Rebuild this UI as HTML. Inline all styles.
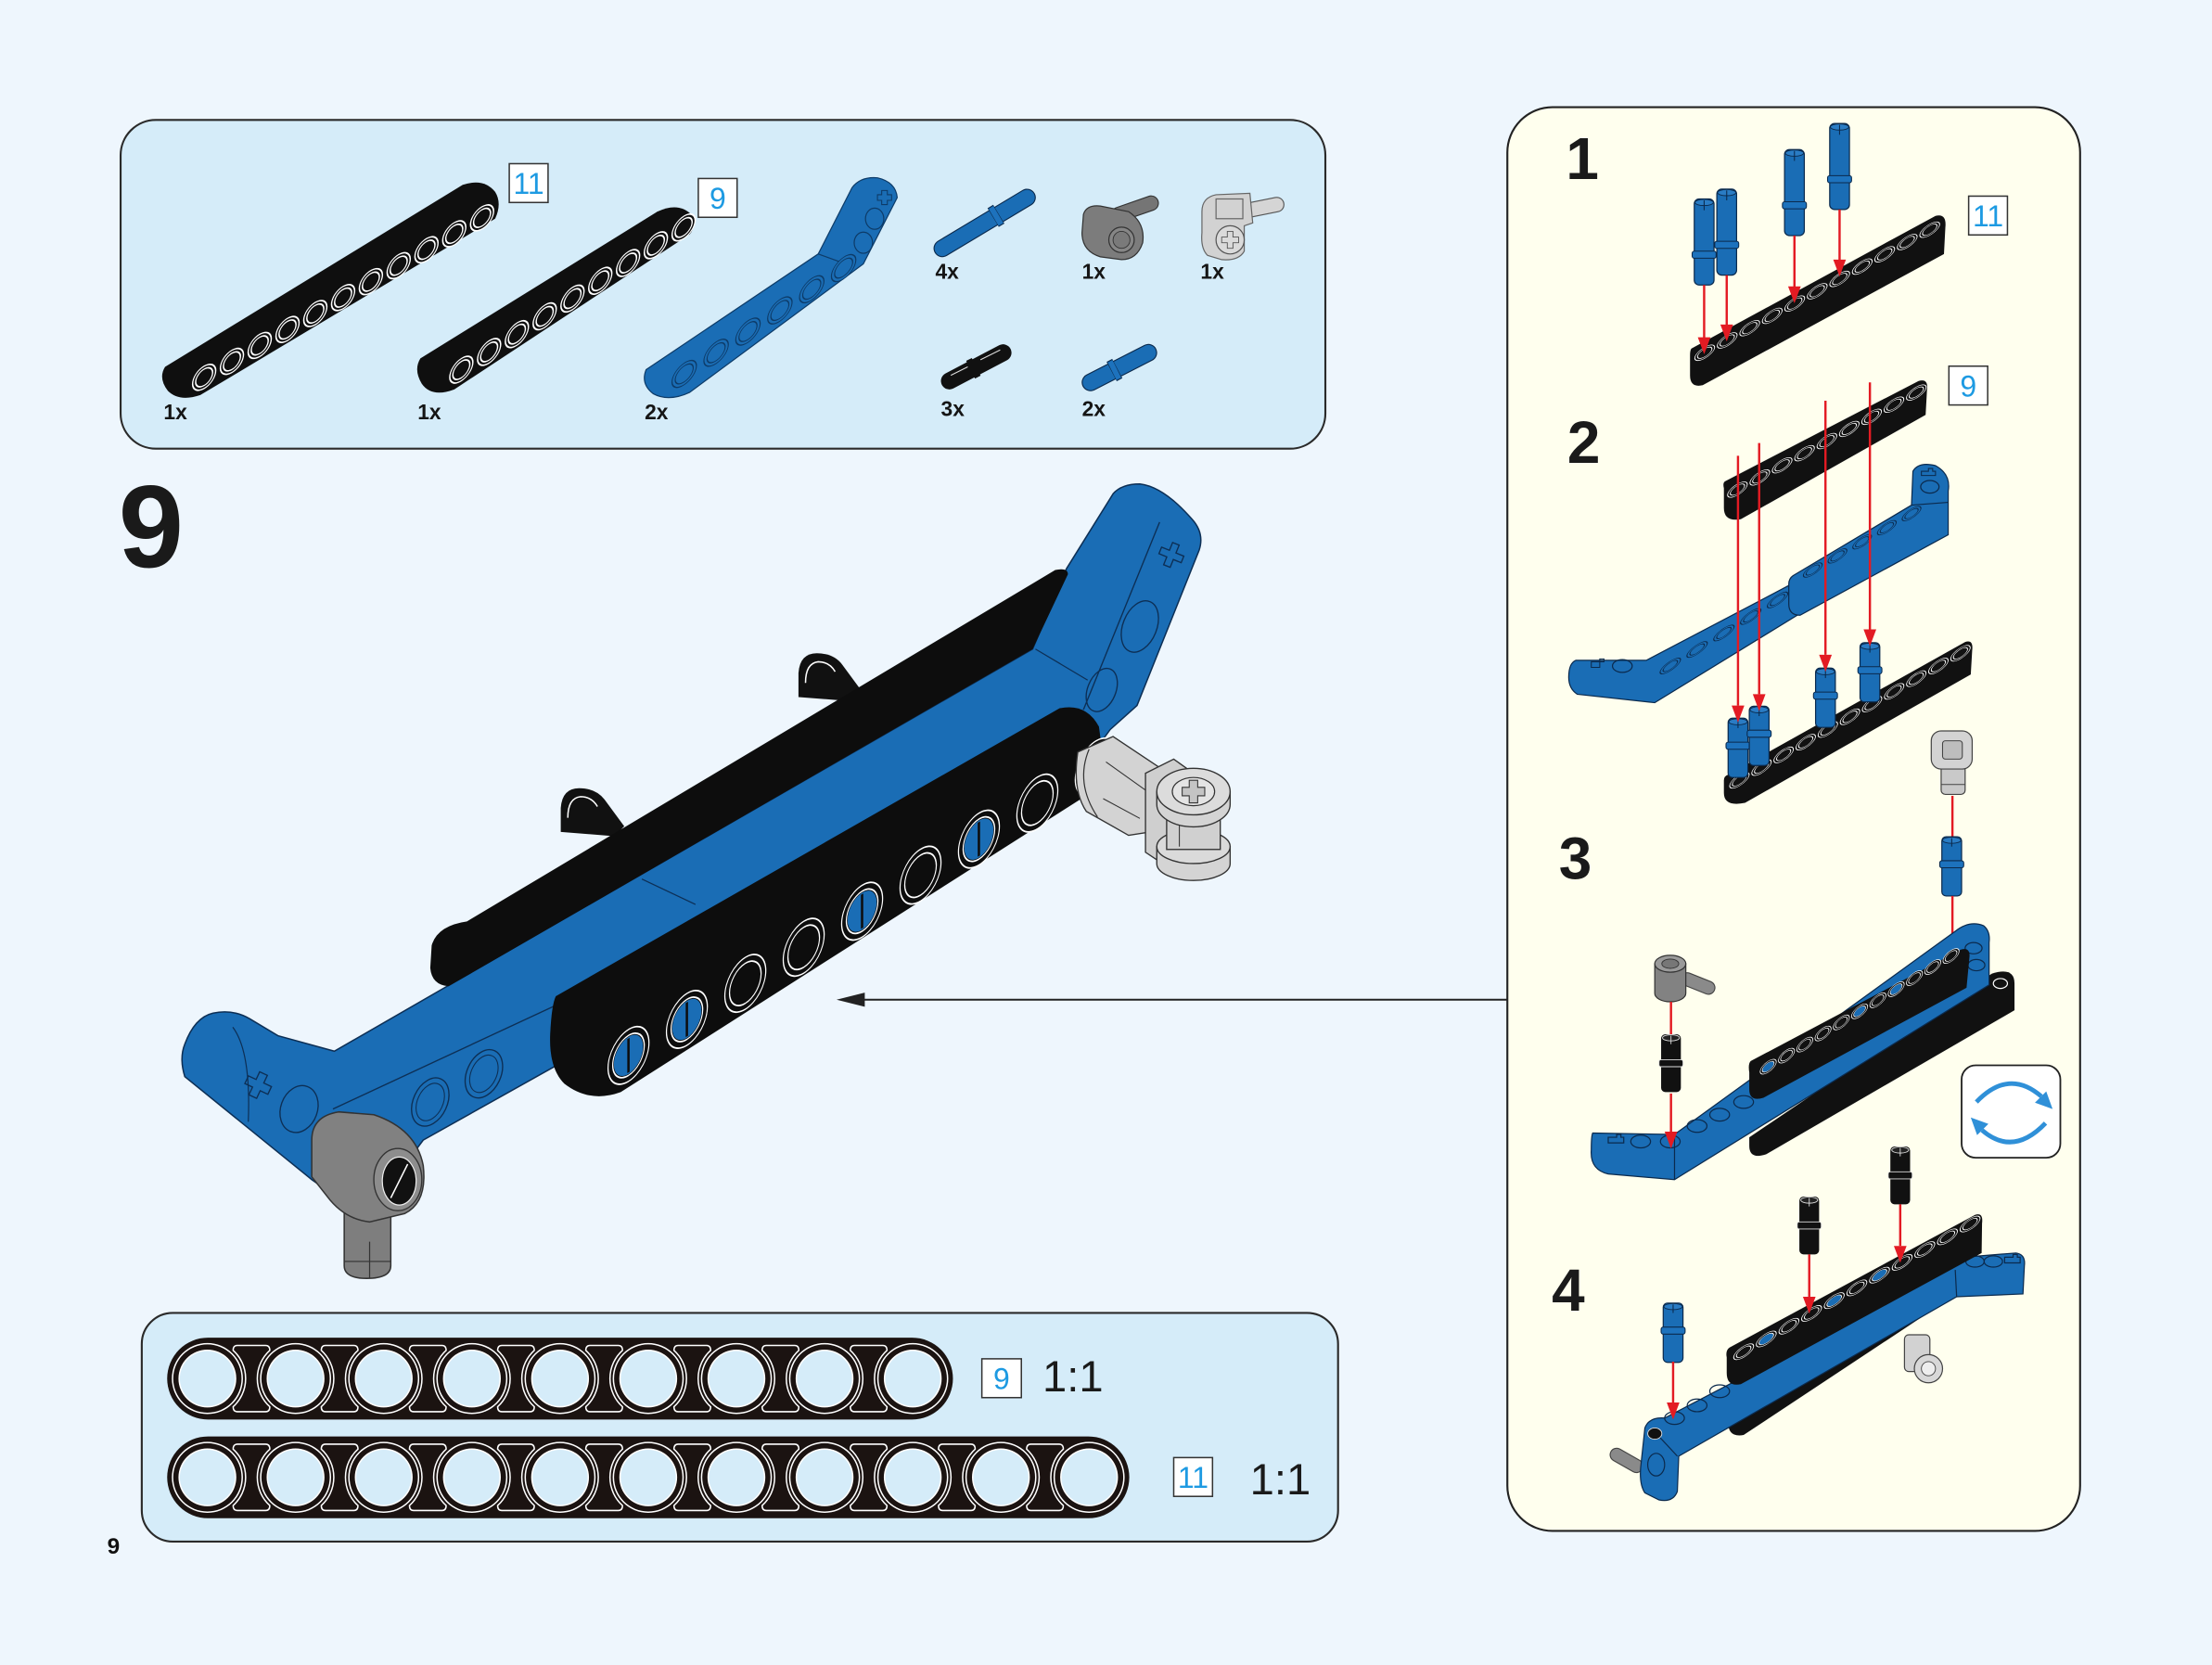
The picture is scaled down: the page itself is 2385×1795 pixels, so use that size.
<!DOCTYPE html>
<html><head><meta charset="utf-8">
<style>
html,body{margin:0;padding:0;background:#EEF6FD;}
svg{display:block;}
text{font-family:"Liberation Sans",Arial,sans-serif;}
</style></head><body>
<svg xmlns="http://www.w3.org/2000/svg" width="2385" height="1795" viewBox="0 0 1568 1180" preserveAspectRatio="none">
<defs>
 <path id="cn" d="M-10,-23.5 L10,-23.5 Q13,-23.5 13,-20 A27,27 0 0 0 13,20 Q13,23.5 10,23.5 L-10,23.5 Q-13,23.5 -13,20 A27,27 0 0 0 -13,-20 Q-13,-23.5 -10,-23.5 Z" fill="none" stroke="#fff" stroke-width="1"/>
 <g id="pb"><rect x="0.5" y="0" width="14" height="42" rx="3" fill="#1a6db5" stroke="#0b2a4d" stroke-width="0.8"/><rect x="-1" y="17" width="17" height="5" rx="1.5" fill="#1d72bd" stroke="#0b2a4d" stroke-width="0.7"/><ellipse cx="7.5" cy="2.5" rx="6.5" ry="2.2" fill="#2a7cc4" stroke="#0b2a4d" stroke-width="0.6"/><line x1="7.5" y1="1" x2="7.5" y2="7" stroke="#0b2a4d" stroke-width="0.7"/></g>
 <g id="pk"><rect x="0.5" y="0" width="14" height="41" rx="3" fill="#111"/><rect x="-1" y="18" width="17" height="5" rx="1.5" fill="#111" stroke="#ddd" stroke-width="0.6"/><ellipse cx="7.5" cy="2.5" rx="6" ry="2.2" fill="#222" stroke="#ddd" stroke-width="0.6"/><line x1="7.5" y1="1" x2="7.5" y2="7" stroke="#ddd" stroke-width="0.6"/></g>
 <g id="pbl"><rect x="0.5" y="0" width="14" height="61" rx="3.5" fill="#1a6db5" stroke="#0b2a4d" stroke-width="0.8"/><rect x="-1" y="37" width="17" height="5" rx="1.5" fill="#1d72bd" stroke="#0b2a4d" stroke-width="0.7"/><ellipse cx="7.5" cy="2.5" rx="6.5" ry="2.2" fill="#2a7cc4" stroke="#0b2a4d" stroke-width="0.6"/><line x1="7.5" y1="1" x2="7.5" y2="8" stroke="#0b2a4d" stroke-width="0.7"/></g>
 <polygon id="ah" points="-4.5,-12 4.5,-12 0,0" fill="#e31b23"/>
 <path id="bpin" d="M566,494 L566,477 Q567,463 579,463 Q591,463 597,471 L611,490 L604,497 Z" fill="#111"/>
</defs>

<rect width="1568" height="1180" fill="#EEF6FD"/>

<!-- ================= TOP PARTS BOX ================= -->
<rect x="85.5" y="85" width="854" height="233" rx="25" fill="#D5ECF9" stroke="#2a2a2a" stroke-width="1.4"/>

<!-- beam 11 -->
<path d="M117,260 L328,131 Q343,126 351,136 Q356,144 351,155 L142,280 Q127,285 119,277 Q112,268 117,260 Z" fill="#0f0f0f"/>
<g transform="matrix(1.97,-1.13,0,1.9,144.7,267.4)" fill="none" stroke-linecap="round" stroke-dasharray="0.01 9.99">
 <line x1="0" y1="0" x2="100.5" y2="0" stroke="#fff" stroke-width="8.8"/>
 <line x1="0" y1="0" x2="100.5" y2="0" stroke="#0f0f0f" stroke-width="7.8"/>
 <line x1="0" y1="0" x2="100.5" y2="0" stroke="#fff" stroke-width="6.6"/>
 <line x1="0" y1="0" x2="100.5" y2="0" stroke="#0f0f0f" stroke-width="5.6"/>
</g>
<!-- beam 9 -->
<path d="M298,254 L466,150 Q481,143 490,152 Q494,160 489,166 L322,276 Q306,282 299,272 Q293,262 298,254 Z" fill="#0f0f0f"/>
<g transform="matrix(1.97,-1.26,0,1.9,327,262)" fill="none" stroke-linecap="round" stroke-dasharray="0.01 9.99">
 <line x1="0" y1="0" x2="80.5" y2="0" stroke="#fff" stroke-width="8.8"/>
 <line x1="0" y1="0" x2="80.5" y2="0" stroke="#0f0f0f" stroke-width="7.8"/>
 <line x1="0" y1="0" x2="80.5" y2="0" stroke="#fff" stroke-width="6.6"/>
 <line x1="0" y1="0" x2="80.5" y2="0" stroke="#0f0f0f" stroke-width="5.6"/>
</g>
<!-- blue bent beam -->
<path d="M458,262 L580,180 L604,133 Q610,125 622,126 Q635,129 636,140 L612,187 L489,278 Q474,285 463,279 Q454,272 458,262 Z" fill="#1a6db5" stroke="#0d3b68" stroke-width="0.8"/>
<line x1="580" y1="180" x2="602" y2="188" stroke="#0d3b68" stroke-width="0.8"/>
<g transform="matrix(2.26,-1.5,0,2.0,485,265)" fill="none" stroke-linecap="round" stroke-dasharray="0.01 9.99">
 <line x1="0" y1="0" x2="50.5" y2="0" stroke="#0d3b68" stroke-width="8"/>
 <line x1="0" y1="0" x2="50.5" y2="0" stroke="#1a6db5" stroke-width="7.3"/>
 <line x1="0" y1="0" x2="50.5" y2="0" stroke="#0d3b68" stroke-width="6"/>
 <line x1="0" y1="0" x2="50.5" y2="0" stroke="#1a6db5" stroke-width="5.3"/>
</g>
<ellipse cx="612" cy="172" rx="6.5" ry="7.5" fill="none" stroke="#0d3b68" stroke-width="0.8"/>
<ellipse cx="620" cy="155" rx="6.5" ry="7.5" fill="none" stroke="#0d3b68" stroke-width="0.8"/>
<path d="M625,135 h4 v3 h3 v4 h-3 v3 h-4 v-3 h-3 v-4 h3 Z" fill="none" stroke="#0d3b68" stroke-width="0.7"/>

<!-- 11 / 9 boxes -->
<rect x="361" y="116" width="27.5" height="27.5" fill="#fff" stroke="#333" stroke-width="1"/>
<text x="374.8" y="137.5" font-size="21" fill="#1d9ae2" text-anchor="middle">11</text>
<rect x="495" y="126.5" width="27.5" height="27.5" fill="#fff" stroke="#333" stroke-width="1"/>
<text x="508.8" y="148" font-size="21" fill="#1d9ae2" text-anchor="middle">9</text>

<!-- blue pin 4x -->
<line x1="668" y1="176" x2="728" y2="140" stroke="#0b2a4d" stroke-width="12.5" stroke-linecap="round"/>
<line x1="668" y1="176" x2="728" y2="140" stroke="#1a6db5" stroke-width="11" stroke-linecap="round"/>
<line x1="704" y1="154.2" x2="708" y2="151.8" stroke="#0b2a4d" stroke-width="15.5"/>
<line x1="704.3" y1="154" x2="707.7" y2="152" stroke="#1d72bd" stroke-width="14"/>
<!-- dark gray part -->
<line x1="793" y1="152" x2="816" y2="144" stroke="#333" stroke-width="11" stroke-linecap="round"/>
<line x1="793" y1="152" x2="816" y2="144" stroke="#757575" stroke-width="9.5" stroke-linecap="round"/>
<path d="M768,152 Q770,145 780,146 L800,150 Q812,158 810,172 Q806,184 795,184 L780,182 Q767,178 767,165 Z" fill="#7c7c7c" stroke="#333" stroke-width="0.8"/>
<circle cx="795" cy="170" r="9" fill="#868686" stroke="#333" stroke-width="0.8"/>
<circle cx="795" cy="170" r="6" fill="#7a7a7a" stroke="#333" stroke-width="0.6"/>
<!-- light gray part -->
<line x1="880" y1="150" x2="905" y2="145" stroke="#555" stroke-width="11" stroke-linecap="round"/>
<line x1="880" y1="150" x2="905" y2="145" stroke="#d5d5d5" stroke-width="9.5" stroke-linecap="round"/>
<path d="M852,150 Q852,140 862,138 L886,137 L888,158 L882,160 L882,178 Q878,185 866,184 L856,181 Q851,176 852,165 Z" fill="#d2d2d2" stroke="#666" stroke-width="0.8"/>
<rect x="862" y="141" width="19" height="14" fill="none" stroke="#666" stroke-width="0.8"/>
<circle cx="872" cy="170" r="10" fill="#dadada" stroke="#555" stroke-width="0.8"/>
<path d="M870,164 h4 v4 h4 v4 h-4 v4 h-4 v-4 h-4 v-4 h4 Z" fill="none" stroke="#555" stroke-width="0.6"/>
<!-- black pin 3x -->
<line x1="673" y1="270" x2="711" y2="250" stroke="#111" stroke-width="12" stroke-linecap="round"/>
<line x1="688" y1="262" x2="692" y2="260" stroke="#111" stroke-width="14"/>
<path d="M674,266 L686,260 M695,255 L709,248" stroke="#ddd" stroke-width="0.7" fill="none"/>
<!-- blue pin 2x -->
<line x1="773" y1="271" x2="814" y2="250" stroke="#0b2a4d" stroke-width="12.5" stroke-linecap="round"/>
<line x1="773" y1="271" x2="814" y2="250" stroke="#1a6db5" stroke-width="11" stroke-linecap="round"/>
<line x1="788" y1="263.3" x2="792" y2="261.2" stroke="#0b2a4d" stroke-width="15.5"/>
<line x1="788.3" y1="263.1" x2="791.7" y2="261.4" stroke="#1d72bd" stroke-width="14"/>

<g font-size="15" font-weight="bold" fill="#151515">
 <text x="116" y="297">1x</text>
 <text x="296" y="297">1x</text>
 <text x="457" y="297">2x</text>
 <text x="663" y="197.5">4x</text>
 <text x="767" y="197.5">1x</text>
 <text x="851" y="197.5">1x</text>
 <text x="667" y="295">3x</text>
 <text x="767" y="295">2x</text>
</g>

<!-- ================= BIG 9 ================= -->
<text x="84" y="402" font-size="83" font-weight="bold" fill="#1a1a1a">9</text>

<!-- ================= MAIN MODEL ================= -->
<use href="#bpin"/>
<path d="M571,484 Q571,470 580,469 Q588,469 592,476" fill="none" stroke="#fff" stroke-width="1"/>
<g transform="translate(-168.5,95.6)">
 <use href="#bpin"/>
 <path d="M571,484 Q571,470 580,469 Q588,469 592,476" fill="none" stroke="#fff" stroke-width="1"/>
</g>

<path d="M151,718 Q165,715 177,722 L197,734 L237,745 L732,460 L756,403 L789,350 Q795,343 808,343 Q825,345 845,368 Q854,378 850,390 L806,500 L787,517 L776,532 L400,752 L300,808 L282,832 L258,862 L221,836 L131,763 Q127,750 131,740 Q138,721 151,718 Z" fill="#1a6db5" stroke="#0d2f55" stroke-width="1"/>
<line x1="236" y1="786" x2="395" y2="712" stroke="#0d2f55" stroke-width="0.9"/>
<ellipse cx="305" cy="781" rx="12" ry="18" transform="rotate(25 305 781)" fill="none" stroke="#0d2f55" stroke-width="0.9"/>
<ellipse cx="343" cy="761" rx="12" ry="18" transform="rotate(25 343 761)" fill="none" stroke="#0d2f55" stroke-width="0.9"/>
<ellipse cx="305" cy="781" rx="9" ry="14" transform="rotate(25 305 781)" fill="none" stroke="#0d2f55" stroke-width="0.7"/>
<ellipse cx="343" cy="761" rx="9" ry="14" transform="rotate(25 343 761)" fill="none" stroke="#0d2f55" stroke-width="0.7"/>
<ellipse cx="212" cy="786" rx="13" ry="17" transform="rotate(20 212 786)" fill="none" stroke="#0d2f55" stroke-width="0.9"/>
<path d="M180,760 h6 v6 h6 v6 h-6 v6 h-6 v-6 h-6 v-6 h6 Z" fill="none" stroke="#0d2f55" stroke-width="0.9" transform="rotate(25 183 769)"/>
<path d="M165,728 Q178,745 176,795" fill="none" stroke="#0d2f55" stroke-width="0.8"/>
<line x1="734" y1="460" x2="771" y2="482" stroke="#0d2f55" stroke-width="0.8"/>
<line x1="822" y1="370" x2="768" y2="503" stroke="#0d2f55" stroke-width="0.9"/>
<ellipse cx="808" cy="444" rx="12" ry="19" transform="rotate(22 808 444)" fill="none" stroke="#0d2f55" stroke-width="0.9"/>
<ellipse cx="781" cy="489" rx="10" ry="16" transform="rotate(22 781 489)" fill="none" stroke="#0d2f55" stroke-width="0.9"/>
<path d="M828,385 h5 v6 h6 v5 h-6 v6 h-5 v-6 h-6 v-5 h6 Z" fill="none" stroke="#0d2f55" stroke-width="0.9" transform="rotate(22 831 393)"/>
<line x1="455" y1="623" x2="493" y2="641" stroke="#0d2f55" stroke-width="0.8"/>

<path d="M331,653 L748,404 Q757,402 757,407 L732,460 L318,699 Q306,698 305,686 L306,670 Q310,656 331,653 Z" fill="#0d0d0d"/>

<path d="M394,706 L751,502 Q770,498 779,515 L781,530 L776,560 L440,774 Q418,782 400,768 Q389,757 390,733 Q391,712 394,706 Z" fill="#0d0d0d"/>
<g transform="matrix(4.14,-2.555,0,5.25,445.5,748)">
 <g fill="none" stroke-linecap="round" stroke-dasharray="0.01 9.99">
  <line x1="0" y1="0" x2="80.5" y2="0" stroke="#fff" stroke-width="7.2"/>
  <line x1="0" y1="0" x2="80.5" y2="0" stroke="#0d0d0d" stroke-width="6.8"/>
  <line x1="0" y1="0" x2="80.5" y2="0" stroke="#fff" stroke-width="5.6"/>
  <line x1="0" y1="0" x2="80.5" y2="0" stroke="#0d0d0d" stroke-width="5.2"/>
 </g>
 <g fill="#1a6db5">
  <circle cx="0" cy="0" r="2.5"/><circle cx="10" cy="0" r="2.5"/><circle cx="40" cy="0" r="2.5"/><circle cx="60" cy="0" r="2.5"/>
 </g>
 <g stroke="#0d0d0d" stroke-width="0.4">
  <line x1="0" y1="-2.3" x2="0" y2="2.3"/><line x1="10" y1="-2.3" x2="10" y2="2.3"/><line x1="40" y1="-2.3" x2="40" y2="2.3"/><line x1="60" y1="-2.3" x2="60" y2="2.3"/>
 </g>
</g>

<path d="M764,533 L789,522 L828,548 L826,588 L800,592 L770,575 Q760,560 764,533 Z" fill="#d3d3d3" stroke="#333" stroke-width="0.9"/>
<path d="M772,531 Q762,555 778,579" fill="none" stroke="#333" stroke-width="0.8"/>
<path d="M784,540 L812,560 M782,566 L808,580" fill="none" stroke="#333" stroke-width="0.7"/>
<path d="M812,548 L832,538 L846,548 L846,608 L830,616 L812,604 Z" fill="#cfcfcf" stroke="#333" stroke-width="0.9"/>
<path d="M820,600 L820,612 A26,12 0 0 0 872,612 L872,600 Z" fill="#d4d4d4" stroke="#333" stroke-width="0.9"/>
<ellipse cx="846" cy="600" rx="26" ry="12" fill="#dadada" stroke="#333" stroke-width="0.9"/>
<rect x="827" y="566" width="38" height="36" fill="#d0d0d0" stroke="#333" stroke-width="0.9"/>
<line x1="836" y1="570" x2="836" y2="600" stroke="#333" stroke-width="0.7"/>
<path d="M820,561 L820,570 A26,16 0 0 0 872,570 L872,561 Z" fill="#d4d4d4" stroke="#333" stroke-width="0.9"/>
<ellipse cx="846" cy="561" rx="26" ry="16.5" fill="#dcdcdc" stroke="#333" stroke-width="0.9"/>
<ellipse cx="846" cy="561" rx="15" ry="10" fill="#e4e4e4" stroke="#333" stroke-width="0.8"/>
<path d="M843,553 h6 v5 h5 v6 h-5 v5 h-6 v-5 h-5 v-6 h5 Z" fill="#c4c4c4" stroke="#333" stroke-width="0.7"/>

<path d="M244,858 L244,897 Q244,906 260,906 Q277,906 277,897 L277,858 Z" fill="#7e7e7e" stroke="#333" stroke-width="1"/>
<line x1="244" y1="894" x2="277" y2="894" stroke="#333" stroke-width="0.8"/>
<line x1="262" y1="880" x2="262" y2="906" stroke="#333" stroke-width="0.8"/>
<path d="M221,808 Q221,791 240,788 L265,790 Q295,800 300,826 Q303,852 287,860 L262,866 Q244,864 232,848 L221,834 Z" fill="#818181" stroke="#333" stroke-width="1"/>
<ellipse cx="282" cy="836" rx="17" ry="22" fill="#8d8d8d" stroke="#333" stroke-width="0.9"/>
<ellipse cx="283" cy="837" rx="12" ry="17" fill="#111" stroke="#eee" stroke-width="0.8"/>
<path d="M277,849 L289,825" stroke="#fff" stroke-width="1"/>

<line x1="1068" y1="708.5" x2="605" y2="708.5" stroke="#222" stroke-width="1.3"/>
<polygon points="593,708.5 613,703.5 613,713.5" fill="#222"/>

<!-- ================= SCALE BOX ================= -->
<rect x="100.5" y="930.5" width="848" height="162" rx="22" fill="#D5ECF9" stroke="#2a2a2a" stroke-width="1.4"/>
<rect x="118.5" y="948" width="557" height="58" rx="29" fill="#1b1311"/>
<rect x="118.5" y="1018" width="682" height="58" rx="29" fill="#1b1311"/>
<g fill="none" stroke-linecap="round" stroke-dasharray="0.01 62.49">
 <line x1="147" y1="977" x2="648" y2="977" stroke="#fff" stroke-width="50.4"/>
 <line x1="147" y1="977" x2="648" y2="977" stroke="#1b1311" stroke-width="48.4"/>
 <line x1="147" y1="977" x2="648" y2="977" stroke="#fff" stroke-width="41"/>
 <line x1="147" y1="977" x2="648" y2="977" stroke="#D5ECF9" stroke-width="39"/>
 <line x1="147" y1="1047" x2="773" y2="1047" stroke="#fff" stroke-width="50.4"/>
 <line x1="147" y1="1047" x2="773" y2="1047" stroke="#1b1311" stroke-width="48.4"/>
 <line x1="147" y1="1047" x2="773" y2="1047" stroke="#fff" stroke-width="41"/>
 <line x1="147" y1="1047" x2="773" y2="1047" stroke="#D5ECF9" stroke-width="39"/>
</g>
<use href="#cn" x="178.25" y="977"/><use href="#cn" x="240.75" y="977"/><use href="#cn" x="303.25" y="977"/><use href="#cn" x="365.75" y="977"/>
<use href="#cn" x="428.25" y="977"/><use href="#cn" x="490.75" y="977"/><use href="#cn" x="553.25" y="977"/><use href="#cn" x="615.75" y="977"/>
<use href="#cn" x="178.25" y="1047"/><use href="#cn" x="240.75" y="1047"/><use href="#cn" x="303.25" y="1047"/><use href="#cn" x="365.75" y="1047"/>
<use href="#cn" x="428.25" y="1047"/><use href="#cn" x="490.75" y="1047"/><use href="#cn" x="553.25" y="1047"/><use href="#cn" x="615.75" y="1047"/>
<use href="#cn" x="678.25" y="1047"/><use href="#cn" x="740.75" y="1047"/>

<rect x="696" y="963" width="28" height="27.5" fill="#fff" stroke="#333" stroke-width="1"/>
<text x="710" y="984.5" font-size="21" fill="#1d9ae2" text-anchor="middle">9</text>
<text x="739" y="986" font-size="31" fill="#1a1a1a">1:1</text>
<rect x="832" y="1033" width="27.5" height="27.5" fill="#fff" stroke="#333" stroke-width="1"/>
<text x="845.8" y="1054.5" font-size="21" fill="#1d9ae2" text-anchor="middle">11</text>
<text x="886" y="1059" font-size="31" fill="#1a1a1a">1:1</text>

<text x="76" y="1101" font-size="16" font-weight="bold" fill="#111">9</text>

<!-- ================= RIGHT PANEL ================= -->
<rect x="1068.5" y="76" width="406" height="1009" rx="32" fill="#FFFFEE" stroke="#222" stroke-width="1.4"/>

<g font-size="42" font-weight="bold" fill="#1a1a1a">
 <text x="1110" y="127">1</text>
 <text x="1111" y="328">2</text>
 <text x="1105" y="623">3</text>
 <text x="1100" y="929">4</text>
</g>

<!-- step 1 -->
<path d="M1199,247 L1372,153 Q1380,151 1379,161 L1378,180 L1207,273 Q1198,275 1198,266 L1198,252 Q1198,248 1199,247 Z" fill="#111"/>
<g transform="matrix(1.595,-0.872,0,0.9,1208.4,250)" fill="none" stroke-linecap="round" stroke-dasharray="0.01 9.99">
 <line x1="0" y1="0" x2="100.5" y2="0" stroke="#fff" stroke-width="9.2"/>
 <line x1="0" y1="0" x2="100.5" y2="0" stroke="#111" stroke-width="8.4"/>
 <line x1="0" y1="0" x2="100.5" y2="0" stroke="#fff" stroke-width="6.8"/>
 <line x1="0" y1="0" x2="100.5" y2="0" stroke="#111" stroke-width="6.0"/>
</g>
<use href="#pbl" x="1200.5" y="141"/>
<use href="#pbl" x="1216.5" y="134"/>
<use href="#pbl" x="1264.5" y="106"/>
<use href="#pbl" x="1296.5" y="87.5"/>
<g stroke="#e31b23" stroke-width="1.6">
 <line x1="1208" y1="202" x2="1208" y2="240"/>
 <line x1="1224" y1="195" x2="1224" y2="231"/>
 <line x1="1272" y1="167" x2="1272" y2="204"/>
 <line x1="1304" y1="148.5" x2="1304" y2="185"/>
</g>
<use href="#ah" x="1208" y="251"/><use href="#ah" x="1224" y="242"/><use href="#ah" x="1272" y="215"/><use href="#ah" x="1304" y="196"/>
<rect x="1395.5" y="139" width="27.5" height="27.5" fill="#fff" stroke="#333" stroke-width="1"/>
<text x="1409.3" y="160.5" font-size="21" fill="#1d9ae2" text-anchor="middle">11</text>

<!-- step 2 -->
<rect x="1381.5" y="259.5" width="27.5" height="27.5" fill="#fff" stroke="#333" stroke-width="1"/>
<text x="1395.3" y="281" font-size="21" fill="#1d9ae2" text-anchor="middle">9</text>
<path d="M1223,341 L1360,270 Q1367,268 1366,276 L1365,294 L1234,368 Q1222,370 1222,360 L1222,346 Q1221,342 1223,341 Z" fill="#111"/>
<g transform="matrix(1.585,-0.86,0,0.9,1231.6,347)" fill="none" stroke-linecap="round" stroke-dasharray="0.01 9.99">
 <line x1="0" y1="0" x2="80.5" y2="0" stroke="#fff" stroke-width="9.2"/>
 <line x1="0" y1="0" x2="80.5" y2="0" stroke="#111" stroke-width="8.4"/>
 <line x1="0" y1="0" x2="80.5" y2="0" stroke="#fff" stroke-width="6.8"/>
 <line x1="0" y1="0" x2="80.5" y2="0" stroke="#111" stroke-width="6.0"/>
</g>
<path d="M1117,468 L1167,468 L1266,416 Q1273,412 1276,420 L1274,436 L1173,498 L1118,492 Q1112,488 1112,480 Q1112,470 1117,468 Z" fill="#1a6db5" stroke="#0b2a4d" stroke-width="0.8"/>
<path d="M1271,408 L1355,358 L1356,334 Q1360,327 1372,330 Q1383,336 1381,348 L1381,379 L1276,436 Q1268,436 1268,428 L1268,414 Q1268,410 1271,408 Z" fill="#1a6db5" stroke="#0b2a4d" stroke-width="0.8"/>
<line x1="1355" y1="358" x2="1381" y2="356" stroke="#0b2a4d" stroke-width="0.7"/>
<g fill="none" stroke-linecap="round" stroke-dasharray="0.01 9.99">
 <g transform="matrix(1.9,-1.17,0,0.9,1184,472)">
  <line x1="0" y1="0" x2="40.5" y2="0" stroke="#0b2a4d" stroke-width="8"/>
  <line x1="0" y1="0" x2="40.5" y2="0" stroke="#1a6db5" stroke-width="7.2"/>
  <line x1="0" y1="0" x2="40.5" y2="0" stroke="#0b2a4d" stroke-width="5.8"/>
  <line x1="0" y1="0" x2="40.5" y2="0" stroke="#1a6db5" stroke-width="5"/>
 </g>
 <g transform="matrix(1.75,-1.0,0,0.9,1285,404)">
  <line x1="0" y1="0" x2="40.5" y2="0" stroke="#0b2a4d" stroke-width="8"/>
  <line x1="0" y1="0" x2="40.5" y2="0" stroke="#1a6db5" stroke-width="7.2"/>
  <line x1="0" y1="0" x2="40.5" y2="0" stroke="#0b2a4d" stroke-width="5.8"/>
  <line x1="0" y1="0" x2="40.5" y2="0" stroke="#1a6db5" stroke-width="5"/>
 </g>
</g>
<ellipse cx="1150" cy="472" rx="7" ry="4.5" fill="none" stroke="#0b2a4d" stroke-width="0.8"/>
<path d="M1128,469 h6 v-2 h3 v2 h-3 v4 h-6 Z" fill="none" stroke="#0b2a4d" stroke-width="0.7"/>
<ellipse cx="1368" cy="345" rx="6.5" ry="4.5" fill="none" stroke="#0b2a4d" stroke-width="0.8"/>
<path d="M1362,334 h5 v-2 h3 v2 h2 v3 h-10 Z" fill="none" stroke="#0b2a4d" stroke-width="0.7"/>
<path d="M1225,549 L1393,455 Q1399,453 1398,461 L1397,478 L1237,569 Q1222,572 1222,562 L1222,553 Q1222,550 1225,549 Z" fill="#111"/>
<g transform="matrix(1.567,-0.9,0,0.9,1233,553)" fill="none" stroke-linecap="round" stroke-dasharray="0.01 9.99">
 <line x1="0" y1="0" x2="100.5" y2="0" stroke="#fff" stroke-width="9.2"/>
 <line x1="0" y1="0" x2="100.5" y2="0" stroke="#111" stroke-width="8.4"/>
 <line x1="0" y1="0" x2="100.5" y2="0" stroke="#fff" stroke-width="6.8"/>
 <line x1="0" y1="0" x2="100.5" y2="0" stroke="#111" stroke-width="6.0"/>
</g>
<use href="#pb" x="1224.5" y="509"/>
<use href="#pb" x="1239.5" y="500.5"/>
<use href="#pb" x="1286.5" y="473.5"/>
<use href="#pb" x="1318" y="455.5"/>
<g stroke="#e31b23" stroke-width="1.6">
 <line x1="1232" y1="323" x2="1232" y2="500"/>
 <line x1="1247" y1="314" x2="1247" y2="492"/>
 <line x1="1294" y1="284" x2="1294" y2="464"/>
 <line x1="1325.5" y1="271" x2="1325.5" y2="446"/>
</g>
<use href="#ah" x="1232" y="512"/><use href="#ah" x="1247" y="504"/><use href="#ah" x="1294" y="476"/><use href="#ah" x="1325.5" y="458"/>

<!-- step 3 top parts -->
<rect x="1376" y="542" width="17" height="21" rx="3" fill="#c9c9c9" stroke="#444" stroke-width="0.8"/>
<line x1="1376" y1="556" x2="1393" y2="556" stroke="#444" stroke-width="0.7"/>
<rect x="1369" y="518" width="29" height="27" rx="7" fill="#d3d3d3" stroke="#444" stroke-width="0.8"/>
<rect x="1377" y="525" width="14" height="13" rx="2" fill="#bdbdbd" stroke="#444" stroke-width="0.7"/>
<line x1="1384" y1="564" x2="1384" y2="593" stroke="#e31b23" stroke-width="1.6"/>
<use href="#pb" x="1376" y="593"/>
<line x1="1384" y1="635" x2="1384" y2="672" stroke="#e31b23" stroke-width="1.6"/>
<use href="#ah" x="1384" y="684"/>

<!-- step 3 assembly -->
<path d="M1240,806 L1412,690 Q1428,685 1428,697 L1428,716 L1252,818 Q1240,822 1240,812 Z" fill="#111"/>
<ellipse cx="1418" cy="697" rx="5" ry="3.5" fill="none" stroke="#fff" stroke-width="0.8"/>
<path d="M1129,803 L1187,804 L1386,660 Q1396,652 1406,656 Q1411,660 1410,668 L1410,698 L1187,836 L1140,832 Q1127,829 1128,815 Q1128,805 1129,803 Z" fill="#1a6db5" stroke="#0b2a4d" stroke-width="0.8"/>
<g fill="none" stroke="#0b2a4d" stroke-width="0.8">
 <ellipse cx="1163" cy="809" rx="7" ry="4.5"/>
 <ellipse cx="1184" cy="809" rx="7" ry="4.5"/>
 <ellipse cx="1203" cy="798" rx="7" ry="4.5"/>
 <ellipse cx="1219" cy="790" rx="7" ry="4.5"/>
 <ellipse cx="1236" cy="781" rx="7" ry="4.5"/>
 <ellipse cx="1399" cy="672" rx="6" ry="4"/>
 <ellipse cx="1401" cy="684" rx="6" ry="4"/>
 <path d="M1140,806 h6 v-2 h3 v2 h2 v4 h-11 Z"/>
 <line x1="1187" y1="804" x2="1187" y2="836"/>
</g>
<path d="M1241,752 L1390,673 Q1397,671 1396,679 L1394,700 L1250,778 Q1240,781 1240,772 L1240,760 Q1239,754 1241,752 Z" fill="#111"/>
<g transform="matrix(1.296,-0.785,0,0.9,1253.4,756)">
 <g fill="none" stroke-linecap="round" stroke-dasharray="0.01 9.99">
  <line x1="0" y1="0" x2="100.5" y2="0" stroke="#fff" stroke-width="9.2"/>
  <line x1="0" y1="0" x2="100.5" y2="0" stroke="#111" stroke-width="8.4"/>
  <line x1="0" y1="0" x2="100.5" y2="0" stroke="#fff" stroke-width="6.8"/>
  <line x1="0" y1="0" x2="100.5" y2="0" stroke="#111" stroke-width="6.0"/>
 </g>
 <g fill="#1a6db5"><circle cx="0" cy="0" r="3"/><circle cx="50" cy="0" r="3"/><circle cx="70" cy="0" r="3"/></g>
</g>
<line x1="1196" y1="694" x2="1211" y2="700" stroke="#444" stroke-width="10" stroke-linecap="round"/>
<line x1="1196" y1="694" x2="1211" y2="700" stroke="#8a8a8a" stroke-width="8.5" stroke-linecap="round"/>
<path d="M1173,683 L1173,704 A11,6 0 0 0 1195,704 L1195,683 Z" fill="#828282" stroke="#333" stroke-width="0.8"/>
<ellipse cx="1184" cy="683" rx="11" ry="6" fill="#9a9a9a" stroke="#333" stroke-width="0.8"/>
<ellipse cx="1184" cy="683" rx="6" ry="3.3" fill="#777" stroke="#333" stroke-width="0.6"/>
<line x1="1184.5" y1="710" x2="1184.5" y2="733" stroke="#e31b23" stroke-width="1.6"/>
<use href="#pk" x="1177" y="733"/>
<line x1="1184.5" y1="775" x2="1184.5" y2="802" stroke="#e31b23" stroke-width="1.6"/>
<use href="#ah" x="1184.5" y="814"/>

<!-- rotate icon -->
<rect x="1390.5" y="755" width="70" height="65.5" rx="10" fill="#fff" stroke="#222" stroke-width="1.2"/>
<path d="M1401,781 Q1424,757 1447,777" fill="none" stroke="#2f90d8" stroke-width="3.2"/>
<polygon points="1455,786 1450.5,773.5 1442.5,781.5" fill="#2f90d8"/>
<path d="M1450,796 Q1427,820 1405,801" fill="none" stroke="#2f90d8" stroke-width="3.2"/>
<polygon points="1397,792 1401.5,804.5 1409.5,796.5" fill="#2f90d8"/>

<!-- step 4 -->
<path d="M1225,992 L1372,906 L1372,927 L1236,1017 Q1225,1019 1225,1008 Z" fill="#111"/>
<rect x="1350" y="946" width="18" height="26" rx="3" fill="#d2d2d2" stroke="#444" stroke-width="0.8"/>
<circle cx="1367" cy="970" r="10" fill="#d8d8d8" stroke="#444" stroke-width="0.8"/>
<circle cx="1367" cy="970" r="5" fill="#eee" stroke="#444" stroke-width="0.6"/>
<line x1="1146" y1="1031" x2="1160" y2="1039" stroke="#444" stroke-width="10" stroke-linecap="round"/>
<line x1="1146" y1="1031" x2="1160" y2="1039" stroke="#8a8a8a" stroke-width="8.5" stroke-linecap="round"/>
<path d="M1166,1012 Q1169,1004 1180,1005 L1383,899 L1392,891 L1429,888 Q1436,889 1435,897 L1434,917 L1387,919 L1190,1032 L1189,1057 Q1186,1065 1176,1063 L1166,1058 Q1162,1052 1163,1040 Z" fill="#1a6db5" stroke="#0b2a4d" stroke-width="0.8"/>
<g fill="none" stroke="#0b2a4d" stroke-width="0.8">
 <ellipse cx="1187" cy="1005" rx="7" ry="4.5"/>
 <ellipse cx="1203" cy="996" rx="7" ry="4.5"/>
 <ellipse cx="1219" cy="986" rx="7" ry="4.5"/>
 <ellipse cx="1400" cy="894" rx="6.5" ry="4"/>
 <ellipse cx="1413" cy="894" rx="6.5" ry="4"/>
 <path d="M1421,891 h6 v-2 h3 v2 h2 v4 h-11 Z"/>
 <ellipse cx="1174" cy="1038" rx="6" ry="8"/>
 <line x1="1386" y1="900" x2="1387" y2="919"/>
 <line x1="1176" y1="1018" x2="1189" y2="1032"/>
</g>
<ellipse cx="1173" cy="1016" rx="5" ry="4" fill="#111" stroke="#ddd" stroke-width="0.6"/>
<path d="M1226,955 L1400,861 Q1406,859 1405,867 L1404.7,888 L1234,981 Q1224,983 1224,973 L1224,962 Q1223,957 1226,955 Z" fill="#111"/>
<g transform="matrix(1.605,-0.905,0,0.9,1236,958)">
 <g fill="none" stroke-linecap="round" stroke-dasharray="0.01 9.99">
  <line x1="0" y1="0" x2="100.5" y2="0" stroke="#fff" stroke-width="9.2"/>
  <line x1="0" y1="0" x2="100.5" y2="0" stroke="#111" stroke-width="8.4"/>
  <line x1="0" y1="0" x2="100.5" y2="0" stroke="#fff" stroke-width="6.8"/>
  <line x1="0" y1="0" x2="100.5" y2="0" stroke="#111" stroke-width="6.0"/>
 </g>
 <g fill="#1a6db5"><circle cx="10" cy="0" r="3"/><circle cx="40" cy="0" r="3"/><circle cx="60" cy="0" r="3"/></g>
</g>
<use href="#pb" x="1178.5" y="923.5"/>
<use href="#pk" x="1275" y="848"/>
<use href="#pk" x="1339.5" y="812.5"/>
<g stroke="#e31b23" stroke-width="1.6">
 <line x1="1186" y1="965" x2="1186" y2="994"/>
 <line x1="1282.5" y1="889" x2="1282.5" y2="919"/>
 <line x1="1347" y1="853.5" x2="1347" y2="883"/>
</g>
<use href="#ah" x="1186" y="1006"/><use href="#ah" x="1282.5" y="931"/><use href="#ah" x="1347" y="895"/>

</svg>
</body></html>
